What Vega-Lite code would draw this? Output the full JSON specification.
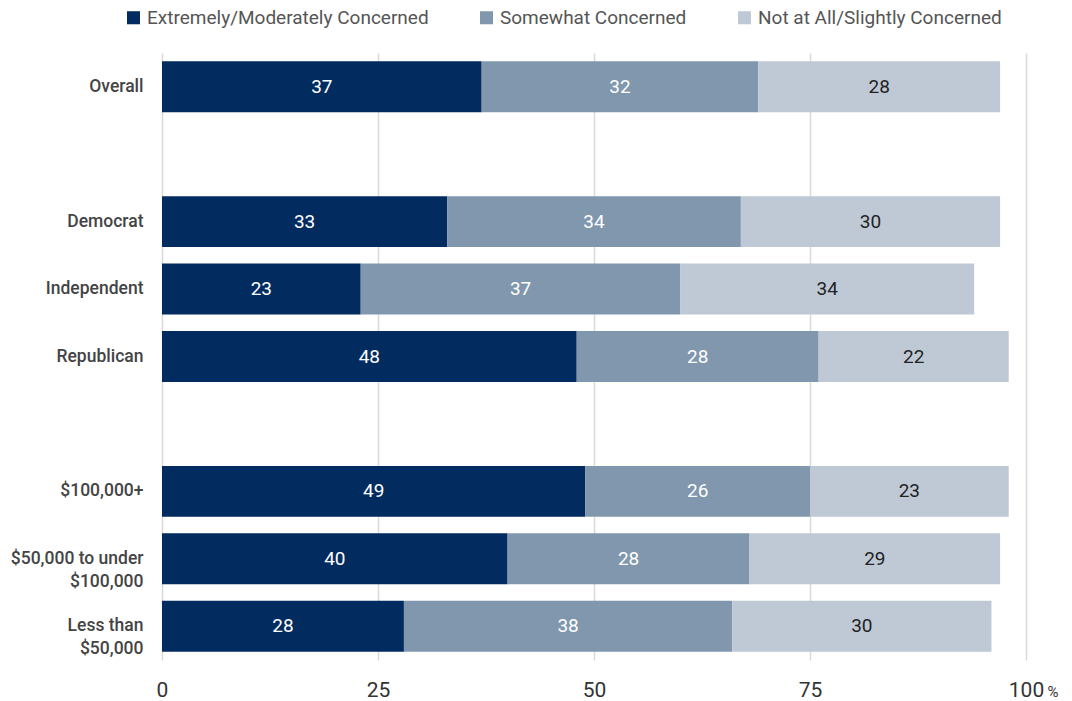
{
  "$schema": "https://vega.github.io/schema/vega-lite/v6.json",
  "width": 864,
  "height": 607,
  "autosize": {"type": "none"},
  "padding": {"left": 162, "top": 53, "right": 46, "bottom": 41},
  "background": "#ffffff",
  "config": {
    "font": "Roboto",
    "view": {"stroke": null}
  },
  "data": {
    "values": [
      {"group": "Overall", "cat": "Extremely/Moderately Concerned", "k": 1, "value": 37},
      {"group": "Overall", "cat": "Somewhat Concerned", "k": 2, "value": 32},
      {"group": "Overall", "cat": "Not at All/Slightly Concerned", "k": 3, "value": 28},
      {"group": "Democrat", "cat": "Extremely/Moderately Concerned", "k": 1, "value": 33},
      {"group": "Democrat", "cat": "Somewhat Concerned", "k": 2, "value": 34},
      {"group": "Democrat", "cat": "Not at All/Slightly Concerned", "k": 3, "value": 30},
      {"group": "Independent", "cat": "Extremely/Moderately Concerned", "k": 1, "value": 23},
      {"group": "Independent", "cat": "Somewhat Concerned", "k": 2, "value": 37},
      {"group": "Independent", "cat": "Not at All/Slightly Concerned", "k": 3, "value": 34},
      {"group": "Republican", "cat": "Extremely/Moderately Concerned", "k": 1, "value": 48},
      {"group": "Republican", "cat": "Somewhat Concerned", "k": 2, "value": 28},
      {"group": "Republican", "cat": "Not at All/Slightly Concerned", "k": 3, "value": 22},
      {"group": "$100,000+", "cat": "Extremely/Moderately Concerned", "k": 1, "value": 49},
      {"group": "$100,000+", "cat": "Somewhat Concerned", "k": 2, "value": 26},
      {"group": "$100,000+", "cat": "Not at All/Slightly Concerned", "k": 3, "value": 23},
      {"group": "$50,000 to under|$100,000", "cat": "Extremely/Moderately Concerned", "k": 1, "value": 40},
      {"group": "$50,000 to under|$100,000", "cat": "Somewhat Concerned", "k": 2, "value": 28},
      {"group": "$50,000 to under|$100,000", "cat": "Not at All/Slightly Concerned", "k": 3, "value": 29},
      {"group": "Less than|$50,000", "cat": "Extremely/Moderately Concerned", "k": 1, "value": 28},
      {"group": "Less than|$50,000", "cat": "Somewhat Concerned", "k": 2, "value": 38},
      {"group": "Less than|$50,000", "cat": "Not at All/Slightly Concerned", "k": 3, "value": 30}
    ]
  },
  "transform": [
    {"stack": "value", "groupby": ["group"], "sort": [{"field": "k", "order": "ascending"}], "as": ["x0", "x1"]},
    {"calculate": "(datum.x0 + datum.x1) / 2", "as": "mid"}
  ],
  "encoding": {
    "y": {
      "field": "group",
      "type": "nominal",
      "scale": {
        "domain": ["Overall", "gap1", "Democrat", "Independent", "Republican", "gap2", "$100,000+", "$50,000 to under|$100,000", "Less than|$50,000"],
        "paddingInner": 0.245,
        "paddingOuter": 0.1225
      },
      "axis": {
        "title": null,
        "domain": false,
        "ticks": false,
        "labelExpr": "indexof(datum.label, 'gap') == 0 ? '' : split(datum.label, '|')",
        "labelFontSize": 17.5,
        "labelColor": "#444444",
        "labelFontWeight": 500,
        "labelPadding": 19,
        "labelLineHeight": 23,
        "labelLimit": 300
      }
    }
  },
  "layer": [
    {
      "mark": {"type": "bar"},
      "encoding": {
        "x": {
          "field": "x0",
          "type": "quantitative",
          "scale": {"domain": [0, 100], "nice": false},
          "axis": {
            "values": [0, 25, 50, 75, 100],
            "domain": false,
            "ticks": false,
            "grid": true,
            "gridColor": "#d9d9d9",
            "gridWidth": 1.5,
            "labelFlush": false,
            "labelFontSize": 21,
            "labelColor": "#333333",
            "labelPadding": 19,
            "title": "%",
            "titleFontSize": 15,
            "titleFontWeight": "normal",
            "titleColor": "#333333",
            "titleAnchor": null,
            "titleAlign": "left",
            "titleBaseline": "middle",
            "titleX": 885,
            "titleY": 31
          }
        },
        "x2": {"field": "x1"},
        "color": {
          "field": "cat",
          "type": "nominal",
          "scale": {
            "domain": ["Extremely/Moderately Concerned", "Somewhat Concerned", "Not at All/Slightly Concerned"],
            "range": ["#022b5f", "#8097ae", "#bfc9d6"]
          },
          "legend": {
            "title": null,
            "orient": "none",
            "direction": "horizontal",
            "legendX": -38,
            "legendY": -45,
            "symbolType": "square",
            "symbolSize": 170,
            "symbolStrokeWidth": 0,
            "labelFontSize": 19,
            "labelColor": "#555555",
            "labelOffset": 4,
            "labelLimit": 400,
            "columnPadding": 48
          }
        }
      }
    },
    {
      "mark": {"type": "text", "fontSize": 19},
      "encoding": {
        "x": {"field": "mid", "type": "quantitative"},
        "text": {"field": "value", "type": "quantitative"},
        "color": {
          "condition": {"test": "datum.k == 3", "value": "#222222"},
          "value": "#ffffff"
        }
      }
    }
  ]
}
